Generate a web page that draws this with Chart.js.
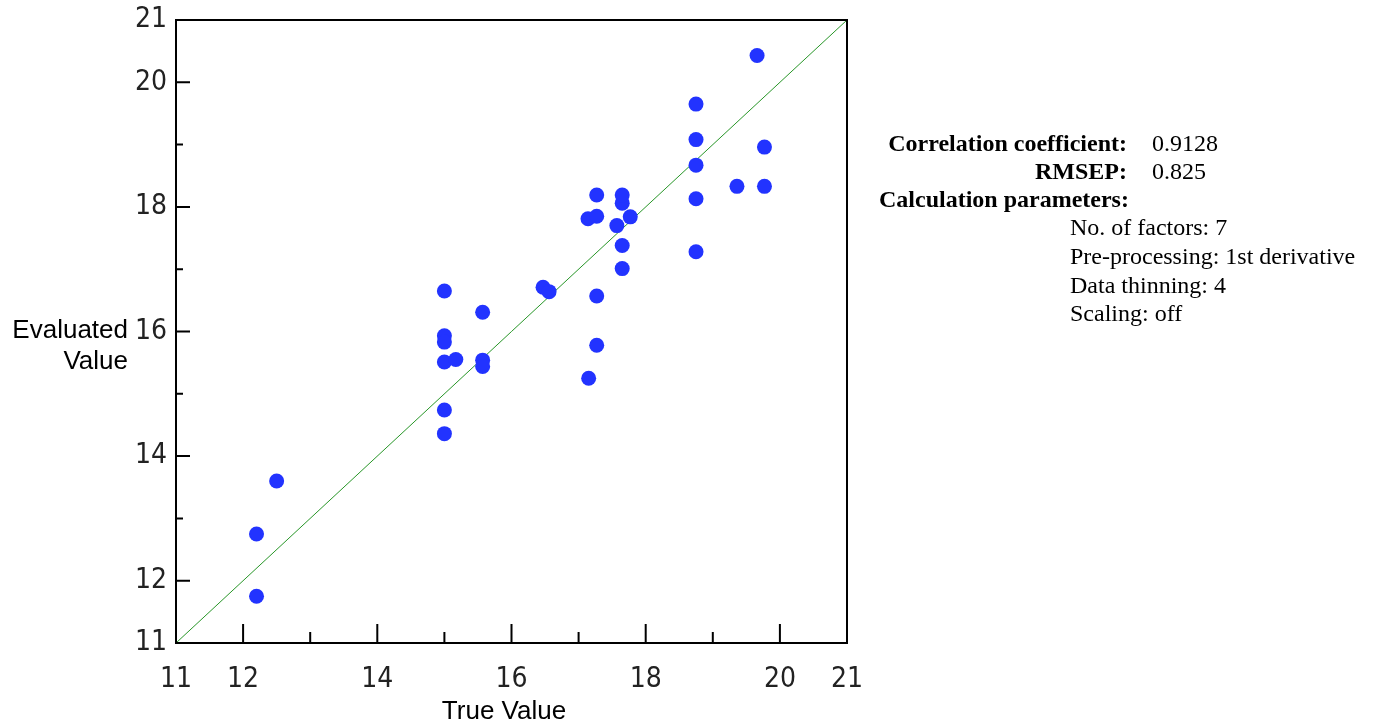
<!DOCTYPE html>
<html>
<head>
<meta charset="utf-8">
<script src="https://cdn.jsdelivr.net/npm/chart.js@4.4.0/dist/chart.umd.min.js"></script>
<style>
body { margin: 0; background: #fff; }
#wrap { position: relative; width: 1374px; height: 727px; }
#chart { position: absolute; left: 0; top: 0; }
.st { position: absolute; font-family: "Liberation Serif", "Times New Roman", serif; font-size: 24px; line-height: 28px; color: #000; white-space: nowrap; }
.b { font-weight: bold; }
</style>
</head>
<body>
<div id="wrap">
  <canvas id="chart" width="1374" height="727"></canvas>
  <div class="st b" style="right:247px; top:129px; text-align:right;">Correlation coefficient:</div>
  <div class="st" style="left:1152px; top:129px;">0.9128</div>
  <div class="st b" style="right:247px; top:157px; text-align:right;">RMSEP:</div>
  <div class="st" style="left:1152px; top:157px;">0.825</div>
  <div class="st b" style="left:879px; top:185px;">Calculation parameters:</div>
  <div class="st" style="left:1070px; top:213px;">No. of factors: 7</div>
  <div class="st" style="left:1070px; top:242px;">Pre-processing: 1st derivative</div>
  <div class="st" style="left:1070px; top:271px;">Data thinning: 4</div>
  <div class="st" style="left:1070px; top:299px;">Scaling: off</div>
</div>
<script>
// measured (x) vs predicted (y)
var trueValues      = [12.2, 12.2, 12.5, 15.0, 15.0, 15.0, 15.0, 15.17, 15.57, 15.57, 15.57, 15.0, 15.0,
                       17.15, 17.27, 17.27, 16.47, 16.56, 17.65, 17.65, 17.57, 17.77, 17.65, 17.65, 17.27,
                       17.14, 17.27, 18.75, 18.75, 18.75, 19.36, 19.77, 19.77, 18.75, 18.75, 19.66];
var evaluatedValues = [12.75, 11.75, 13.6, 16.65, 15.93, 15.83, 15.51, 15.55, 15.54, 15.44, 16.31, 14.74, 14.36,
                       15.25, 15.78, 16.57, 16.71, 16.64, 17.01, 17.38, 17.70, 17.84, 18.06, 18.19, 18.19,
                       17.81, 17.85, 18.67, 18.13, 17.28, 18.33, 18.33, 18.96, 19.65, 19.08, 20.43];

var refLine = [11, 21];           // ideal y = x
var axisMin = 11, axisMax = 21;
var tickLabels = [11, 12, 14, 16, 18, 20, 21];

var scatterData = trueValues.map(function (v, i) { return { x: v, y: evaluatedValues[i] }; });
var lineData = refLine.map(function (v) { return { x: v, y: v }; });

var tickFont = { family: '"Liberation Sans Narrow", "DejaVu Sans Condensed", Arial, sans-serif', size: 28 };

function allTicks(scale) {
    var t = [];
    for (var v = axisMin; v <= axisMax; v++) t.push({ value: v });
    scale.ticks = t;
}

function labelOnly(v) {
    return tickLabels.indexOf(v) >= 0 ? String(v) : '';
}

// box + inward tick marks + axis titles
const framePlugin = {
    id: 'frame',
    afterDraw(chart) {
        var c = chart.ctx, a = chart.chartArea;
        var xs = chart.scales.x, ys = chart.scales.y;
        c.save();
        c.strokeStyle = '#000';
        c.lineWidth = 2;
        c.strokeRect(a.left, a.top, a.right - a.left, a.bottom - a.top);
        c.beginPath();
        for (var v = axisMin + 1; v < axisMax; v++) {
            var major = tickLabels.indexOf(v) >= 0;
            var px = xs.getPixelForValue(v);
            c.moveTo(px, a.bottom);
            c.lineTo(px, a.bottom - (major ? 19 : 11));
            var py = ys.getPixelForValue(v);
            c.moveTo(a.left, py);
            c.lineTo(a.left + (major ? 14 : 7), py);
        }
        c.stroke();

        c.fillStyle = '#000';
        c.font = '26px "Liberation Sans", Arial, sans-serif';
        c.textBaseline = 'middle';
        c.textAlign = 'center';
        c.fillText('True Value', 504, 712);
        c.textAlign = 'right';
        c.fillText('Evaluated', 128, 331);
        c.fillText('Value', 128, 362);
        c.restore();
    }
};

const ctx = document.getElementById('chart');
const chart = new Chart(ctx, {
    type: 'scatter',
    data: {
        datasets: [{
            label: 'samples',
            data: scatterData,
            backgroundColor: 'rgb(34, 51, 255)',
            borderWidth: 0,
            pointRadius: 7.5,
            pointHoverRadius: 7.5,
            order: 0
        }, {
            type: 'line',
            label: 'ideal',
            data: lineData,
            borderColor: 'rgb(40, 150, 40)',
            borderWidth: 1,
            pointRadius: 0,
            fill: false,
            order: 1
        }]
    },
    options: {
        responsive: false,
        animation: false,
        layout: { padding: { top: 20, right: 527, left: 0, bottom: 0 } },
        plugins: { legend: { display: false }, tooltip: { enabled: false } },
        scales: {
            x: {
                type: 'linear',
                min: axisMin,
                max: axisMax,
                afterBuildTicks: allTicks,
                afterFit: function (s) { s.height = 84; s.paddingLeft = 0; s.paddingRight = 0; },
                grid: { display: false, drawTicks: false },
                border: { display: false },
                ticks: {
                    autoSkip: false,
                    maxRotation: 0,
                    padding: 20,
                    color: '#222',
                    font: tickFont,
                    callback: labelOnly
                }
            },
            y: {
                type: 'linear',
                min: axisMin,
                max: axisMax,
                afterBuildTicks: allTicks,
                afterFit: function (s) { s.width = 176; s.paddingTop = 0; s.paddingBottom = 0; },
                grid: { display: false, drawTicks: false },
                border: { display: false },
                ticks: {
                    autoSkip: false,
                    padding: 9,
                    color: '#222',
                    font: tickFont,
                    callback: labelOnly
                }
            }
        }
    },
    plugins: [framePlugin]
});
</script>
</body>
</html>
